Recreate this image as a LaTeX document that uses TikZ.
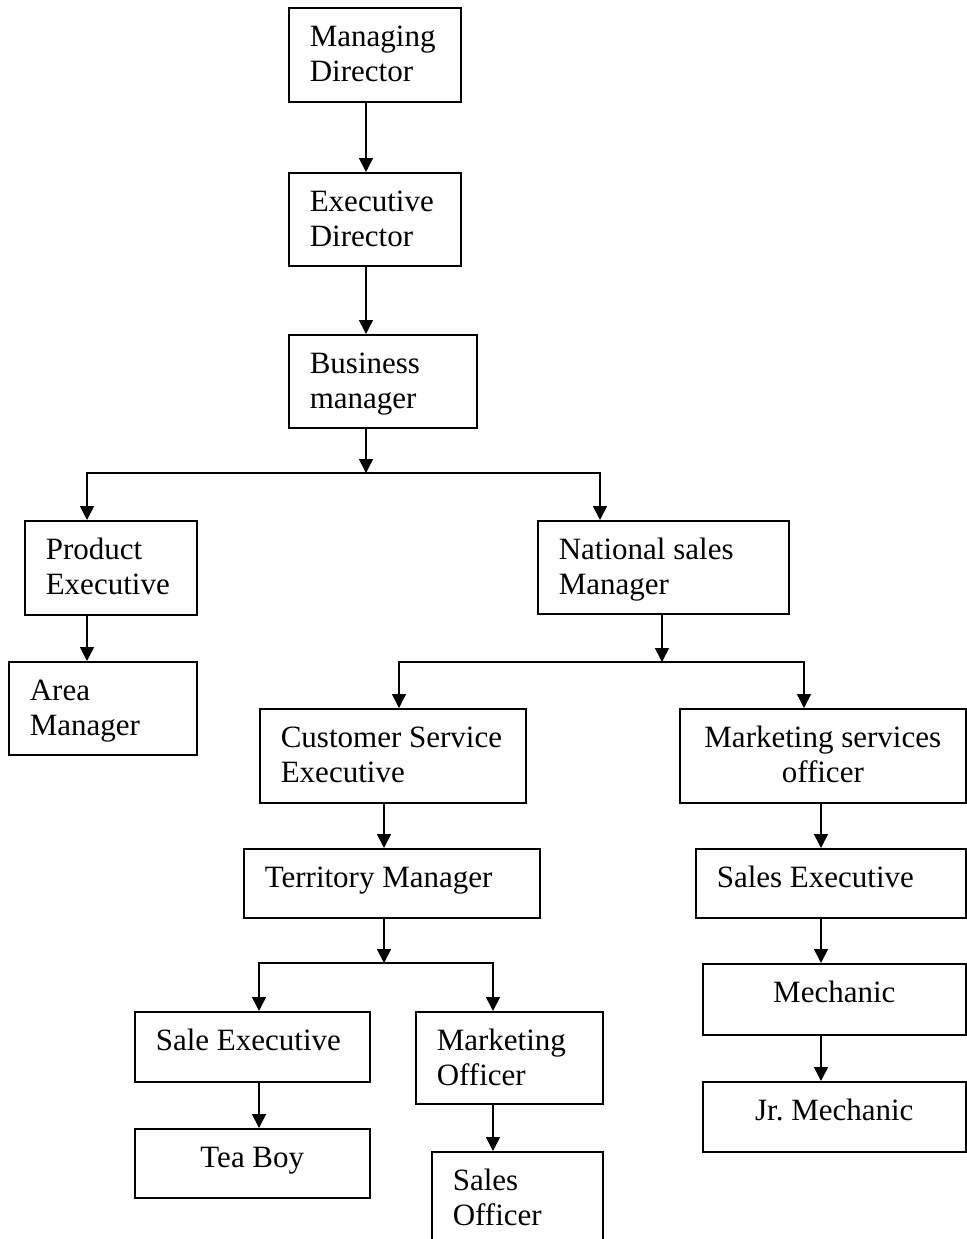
\documentclass[tikz,border=0pt]{standalone}
\usepackage{fontspec}
\setmainfont{Liberation Serif}
\usetikzlibrary{arrows.meta}

\begin{document}
\begin{tikzpicture}[x=0.5pt,y=-0.5pt,line width=0.8pt,>={Triangle[length=7pt,width=7pt]},
  box/.style={draw,anchor=north west,inner xsep=10.5pt,inner ysep=0pt,text height=19.5pt,align=flush left,font=\fontsize{15.5pt}{17.5pt}\selectfont},
  mid/.style={box,align=flush center}]
\useasboundingbox (0,0) rectangle (967,1239);

\node[box,text width=65pt,text depth=27.5pt] (MD) at (288,7) {Managing\\Director};
\node[box,text width=65pt,text depth=27pt] (ED) at (288,172) {Executive\\Director};
\node[box,text width=73pt,text depth=27pt] (BM) at (288,334) {Business\\manager};
\node[box,text width=65pt,text depth=27.5pt] (PE) at (24,520) {Product\\Executive};
\node[box,text width=104.5pt,text depth=27pt] (NSM) at (537,520) {National sales\\Manager};
\node[box,text width=73pt,text depth=27pt] (AM) at (8,661) {Area\\Manager};
\node[box,text width=112pt,text depth=27.5pt] (CSE) at (259,708) {Customer Service\\Executive};
\node[mid,text width=122pt,text depth=27.5pt] (MSO) at (679,708) {Marketing services\\officer};
\node[box,text width=127pt,text depth=15pt] (TM) at (243,848) {Territory Manager};
\node[box,text width=114pt,text depth=15pt] (SE) at (695,848) {Sales Executive};
\node[mid,text width=110.5pt,text depth=16pt] (ME) at (702,963) {Mechanic};
\node[mid,text width=110.5pt,text depth=15.5pt] (JM) at (702,1081) {Jr.\ Mechanic};
\node[box,text width=96.5pt,text depth=15.5pt] (SX) at (134,1011) {Sale Executive};
\node[box,text width=72.5pt,text depth=26.5pt] (MO) at (415,1011) {Marketing\\Officer};
\node[mid,text width=96.5pt,text depth=15pt] (TB) at (134,1128) {Tea Boy};
\node[box,text width=64.5pt,text depth=40pt] (SO) at (431,1151) {Sales\\Officer};

\coordinate (K1) at (366,473);
\coordinate (L1) at (87,473);
\coordinate (R1) at (600,473);
\coordinate (K2) at (662,662);
\coordinate (L2) at (399,662);
\coordinate (R2) at (804,662);
\coordinate (K3) at (384,963);
\coordinate (L3) at (259,963);
\coordinate (R3) at (493,963);
\coordinate (C4) at (821,0);

\draw[->] (MD.south -| K1) -- (ED.north -| K1);
\draw[->] (ED.south -| K1) -- (BM.north -| K1);
\draw[->] (BM.south -| K1) -- (K1);
\draw[<->] (L1 |- PE.north) -- (L1) -- (R1) -- (R1 |- NSM.north);
\draw[->] (PE.south -| L1) -- (AM.north -| L1);

\draw[->] (NSM.south -| K2) -- (K2);
\draw[<->] (L2 |- CSE.north) -- (L2) -- (R2) -- (R2 |- MSO.north);
\draw[->] (CSE.south -| K3) -- (TM.north -| K3);
\draw[->] (TM.south -| K3) -- (K3);
\draw[<->] (L3 |- SX.north) -- (L3) -- (R3) -- (R3 |- MO.north);
\draw[->] (SX.south -| L3) -- (TB.north -| L3);
\draw[->] (MO.south -| R3) -- (SO.north -| R3);

\draw[->] (MSO.south -| C4) -- (SE.north -| C4);
\draw[->] (SE.south -| C4) -- (ME.north -| C4);
\draw[->] (ME.south -| C4) -- (JM.north -| C4);
\end{tikzpicture}
\end{document}
